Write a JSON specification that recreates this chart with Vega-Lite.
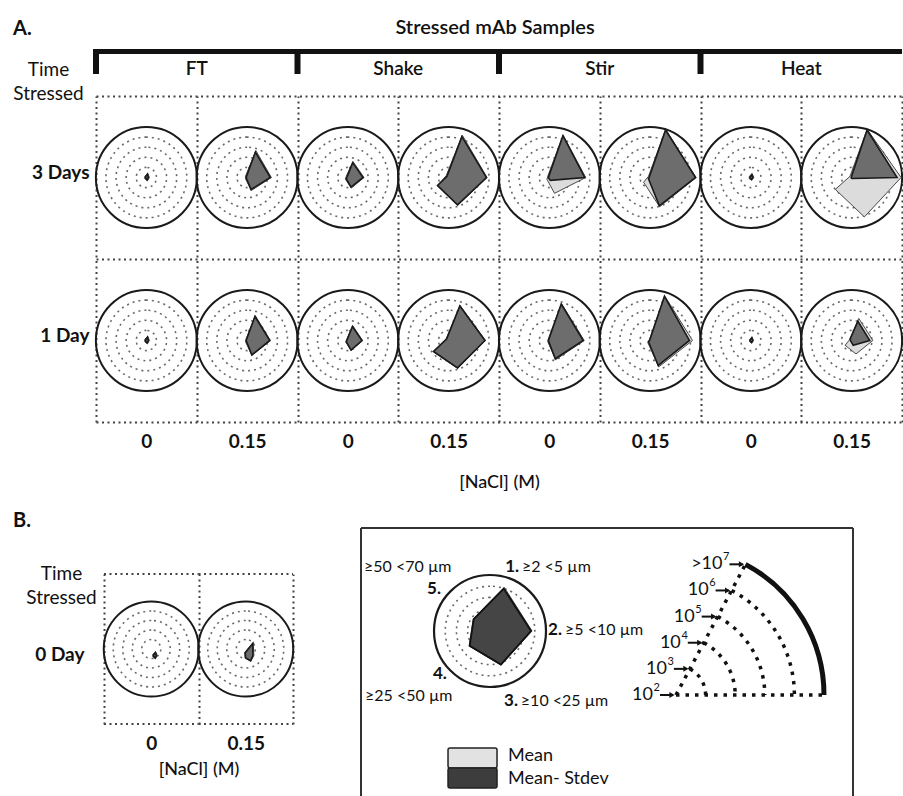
{
"$schema":"https://vega.github.io/schema/vega-lite/v6.json",
"padding":{"left":12,"top":17,"right":0,"bottom":0},
"autosize":{"type":"pad"},
"config":{"font":"Lato","view":{"stroke":null},"text":{"color":"#111"},
"axis":{"labelColor":"#111","titleColor":"#111","domain":false,"ticks":false,"labelFontSize":19,"labelFontWeight":"bold","titleFontSize":19,"titleFontWeight":"normal","gridColor":"#444","gridDash":[2,3.5],"gridWidth":2,"gridOpacity":1,"labelOverlap":false}},
"datasets":{
"groups":[{"g":"FT","start":"FT|0","mid":"FT|0.15"},{"g":"Shake","start":"Shake|0","mid":"Shake|0.15"},{"g":"Stir","start":"Stir|0","mid":"Stir|0.15"},{"g":"Heat","start":"Heat|0","mid":"Heat|0.15"}],
"radarA":[
{"t":"3 Days","s":"FT","n":"0","series":"Mean","v1":2.45,"v2":2.3,"v3":2.35,"v4":2.2,"v5":2.2},
{"t":"3 Days","s":"FT","n":"0","series":"Mean- Stdev","v1":2.35,"v2":2.2,"v3":2.25,"v4":2.1,"v5":2.1},
{"t":"3 Days","s":"FT","n":"0.15","series":"Mean","v1":4.8,"v2":4.4,"v3":3.35,"v4":2.2,"v5":2.2},
{"t":"3 Days","s":"FT","n":"0.15","series":"Mean- Stdev","v1":4.65,"v2":4.3,"v3":3.25,"v4":2.1,"v5":2.1},
{"t":"3 Days","s":"Shake","n":"0","series":"Mean","v1":3.65,"v2":3.6,"v3":3.1,"v4":2.3,"v5":2.2},
{"t":"3 Days","s":"Shake","n":"0","series":"Mean- Stdev","v1":3.55,"v2":3.5,"v3":3.0,"v4":2.2,"v5":2.1},
{"t":"3 Days","s":"Shake","n":"0.15","series":"Mean","v1":6.4,"v2":5.8,"v3":4.9,"v4":3.4,"v5":2.3},
{"t":"3 Days","s":"Shake","n":"0.15","series":"Mean- Stdev","v1":6.25,"v2":5.75,"v3":4.85,"v4":3.35,"v5":2.2},
{"t":"3 Days","s":"Stir","n":"0","series":"Mean","v1":6.4,"v2":5.6,"v3":3.65,"v4":2.3,"v5":2.2},
{"t":"3 Days","s":"Stir","n":"0","series":"Mean- Stdev","v1":6.35,"v2":5.5,"v3":2.3,"v4":2.1,"v5":2.1},
{"t":"3 Days","s":"Stir","n":"0.15","series":"Mean","v1":7.0,"v2":6.55,"v3":5.05,"v4":2.8,"v5":2.2},
{"t":"3 Days","s":"Stir","n":"0.15","series":"Mean- Stdev","v1":6.95,"v2":6.5,"v3":4.95,"v4":2.2,"v5":2.1},
{"t":"3 Days","s":"Heat","n":"0","series":"Mean","v1":2.4,"v2":2.3,"v3":2.3,"v4":2.2,"v5":2.2},
{"t":"3 Days","s":"Heat","n":"0","series":"Mean- Stdev","v1":2.3,"v2":2.2,"v3":2.2,"v4":2.1,"v5":2.1},
{"t":"3 Days","s":"Heat","n":"0.15","series":"Mean","v1":7.0,"v2":6.9,"v3":6.1,"v4":4.0,"v5":2.2},
{"t":"3 Days","s":"Heat","n":"0.15","series":"Mean- Stdev","v1":6.95,"v2":6.5,"v3":2.1,"v4":2.05,"v5":2.05},
{"t":"1 Day","s":"FT","n":"0","series":"Mean","v1":2.45,"v2":2.3,"v3":2.35,"v4":2.2,"v5":2.2},
{"t":"1 Day","s":"FT","n":"0","series":"Mean- Stdev","v1":2.35,"v2":2.2,"v3":2.25,"v4":2.1,"v5":2.1},
{"t":"1 Day","s":"FT","n":"0.15","series":"Mean","v1":4.6,"v2":4.3,"v3":3.55,"v4":2.2,"v5":2.15},
{"t":"1 Day","s":"FT","n":"0.15","series":"Mean- Stdev","v1":4.5,"v2":4.25,"v3":3.5,"v4":2.1,"v5":2.1},
{"t":"1 Day","s":"Shake","n":"0","series":"Mean","v1":3.55,"v2":3.45,"v3":3.05,"v4":2.25,"v5":2.15},
{"t":"1 Day","s":"Shake","n":"0","series":"Mean- Stdev","v1":3.45,"v2":3.4,"v3":3.0,"v4":2.2,"v5":2.1},
{"t":"1 Day","s":"Shake","n":"0.15","series":"Mean","v1":5.65,"v2":5.65,"v3":4.9,"v4":3.9,"v5":2.3},
{"t":"1 Day","s":"Shake","n":"0.15","series":"Mean- Stdev","v1":5.6,"v2":5.6,"v3":4.85,"v4":3.85,"v5":2.25},
{"t":"1 Day","s":"Stir","n":"0","series":"Mean","v1":5.85,"v2":5.45,"v3":4.0,"v4":2.2,"v5":2.15},
{"t":"1 Day","s":"Stir","n":"0","series":"Mean- Stdev","v1":5.8,"v2":5.35,"v3":3.9,"v4":2.1,"v5":2.1},
{"t":"1 Day","s":"Stir","n":"0.15","series":"Mean","v1":6.65,"v2":6.2,"v3":4.75,"v4":2.3,"v5":2.1},
{"t":"1 Day","s":"Stir","n":"0.15","series":"Mean- Stdev","v1":6.6,"v2":5.9,"v3":4.6,"v4":2.2,"v5":2.05},
{"t":"1 Day","s":"Heat","n":"0","series":"Mean","v1":2.35,"v2":2.25,"v3":2.3,"v4":2.15,"v5":2.15},
{"t":"1 Day","s":"Heat","n":"0","series":"Mean- Stdev","v1":2.3,"v2":2.2,"v3":2.2,"v4":2.1,"v5":2.1},
{"t":"1 Day","s":"Heat","n":"0.15","series":"Mean","v1":4.3,"v2":4.1,"v3":3.4,"v4":2.8,"v5":2.2},
{"t":"1 Day","s":"Heat","n":"0.15","series":"Mean- Stdev","v1":4.0,"v2":3.8,"v3":2.5,"v4":2.1,"v5":2.2}
],
"radarB":[
{"t":"0 Day","n":"0","series":"Mean","v1":2.4,"v2":2.3,"v3":2.35,"v4":2.2,"v5":2.2},
{"t":"0 Day","n":"0","series":"Mean- Stdev","v1":2.3,"v2":2.2,"v3":2.25,"v4":2.1,"v5":2.1},
{"t":"0 Day","n":"0.15","series":"Mean","v1":3.35,"v2":2.5,"v3":2.6,"v4":2.45,"v5":2.5},
{"t":"0 Day","n":"0.15","series":"Mean- Stdev","v1":3.25,"v2":2.4,"v3":2.55,"v4":2.4,"v5":2.45}
],
"radarL":[
{"series":"Mean","v1":6.1,"v2":5.75,"v3":5.2,"v4":4.3,"v5":3.85},
{"series":"Mean- Stdev","v1":5.97,"v2":5.66,"v3":5.15,"v4":4.25,"v5":3.8}
],
"levels":[{"exp":2,"base":"10","sup":"2"},{"exp":3,"base":"10","sup":"3"},{"exp":4,"base":"10","sup":"4"},{"exp":5,"base":"10","sup":"5"},{"exp":6,"base":"10","sup":"6"},{"exp":7,"base":">10","sup":"7"}]
},
"vconcat":[
{"width":806,"height":47,"data":{"name":"groups"},
"layer":[
{"transform":[{"filter":"datum.g == 'FT'"}],"mark":{"type":"rule","strokeWidth":5,"color":"#111"},"encoding":{"y":{"datum":0.947,"type":"quantitative","scale":{"domain":[0,1],"nice":false,"zero":false},"axis":null}}},
{"mark":{"type":"rule","strokeWidth":6,"color":"#111"},"encoding":{"x":{"field":"start","type":"nominal","bandPosition":0,"scale":{"type":"band","domain":["FT|0","FT|0.15","Shake|0","Shake|0.15","Stir|0","Stir|0.15","Heat|0","Heat|0.15"],"paddingInner":0,"paddingOuter":0},"axis":null},"y":{"datum":1,"type":"quantitative","scale":{"domain":[0,1],"nice":false,"zero":false},"axis":null},"y2":{"datum":0.468}}},
{"mark":{"type":"text","fontSize":19,"fontWeight":600,"baseline":"alphabetic"},"encoding":{"x":{"field":"mid","type":"nominal","bandPosition":0,"scale":{"type":"band","domain":["FT|0","FT|0.15","Shake|0","Shake|0.15","Stir|0","Stir|0.15","Heat|0","Heat|0.15"],"paddingInner":0,"paddingOuter":0},"axis":null},"y":{"datum":0.447,"type":"quantitative","scale":{"domain":[0,1],"nice":false,"zero":false},"axis":null},"text":{"field":"g"}}},
{"transform":[{"filter":"datum.g == 'Stir'"}],"mark":{"type":"text","fontSize":20,"fontWeight":600,"baseline":"middle","dx":-4,"text":"Stressed mAb Samples"},"encoding":{"x":{"field":"start","type":"nominal","bandPosition":0,"scale":{"type":"band","domain":["FT|0","FT|0.15","Shake|0","Shake|0.15","Stir|0","Stir|0.15","Heat|0","Heat|0.15"],"paddingInner":0,"paddingOuter":0},"axis":null},"y":{"datum":1.447,"type":"quantitative","scale":{"domain":[0,1],"nice":false,"zero":false},"axis":null}}},
{"transform":[{"filter":"datum.g == 'FT'"}],"mark":{"type":"text","fontSize":20,"fontWeight":"bold","baseline":"middle","align":"left","dx":-83,"text":"A."},"encoding":{"x":{"field":"start","type":"nominal","bandPosition":0,"scale":{"type":"band","domain":["FT|0","FT|0.15","Shake|0","Shake|0.15","Stir|0","Stir|0.15","Heat|0","Heat|0.15"],"paddingInner":0,"paddingOuter":0},"axis":null},"y":{"datum":1.426,"type":"quantitative","scale":{"domain":[0,1],"nice":false,"zero":false},"axis":null}}}
]},
{"width":806,"height":326,"data":{"name":"radarA"},
"transform":[
{"calculate":"datum.s + '|' + datum.n","as":"cell"},
{"fold":["v1","v2","v3","v4","v5"],"as":["key","v"]},
{"calculate":"toNumber(substring(datum.key,1))","as":"axis"},
{"calculate":"(datum.v-2)/5","as":"f"},
{"calculate":"(18+72*(datum.axis-1))*PI/180","as":"ang"},
{"calculate":"datum.f*sin(datum.ang)","as":"dx"},
{"calculate":"-datum.f*cos(datum.ang)","as":"dy"}
],
"encoding":{
"x":{"field":"cell","type":"nominal","scale":{"type":"band","domain":["FT|0","FT|0.15","Shake|0","Shake|0.15","Stir|0","Stir|0.15","Heat|0","Heat|0.15"],"paddingInner":0,"paddingOuter":0},
"axis":{"title":"[NaCl] (M)","labelExpr":"split(datum.value,'|')[1]","labelAngle":0,"tickBand":"extent","grid":true,"labelPadding":10,"titlePadding":22,"titleFontSize":18,"titleFontWeight":500}},
"y":{"field":"t","type":"nominal","scale":{"type":"band","domain":["3 Days","1 Day"],"paddingInner":0,"paddingOuter":0},
"axis":{"title":["Time","Stressed"],"titleAngle":0,"titleAlign":"center","titleBaseline":"alphabetic","titleX":-48,"titleY":-21,"titleLineHeight":24,"labelPadding":7,"labelOffset":-5,"tickBand":"extent","grid":true}}
},
"layer":[
{"transform":[{"filter":"datum.series == 'Mean' && datum.axis == 1"}],"mark":{"type":"arc","filled":false,"stroke":"#6a6a6a","strokeWidth":1.6,"strokeDash":[2,4]},"encoding":{"radius":{"datum":3,"type":"quantitative","scale":{"type":"linear","domain":[2,7],"range":[0,50.5],"zero":false}}}},
{"transform":[{"filter":"datum.series == 'Mean' && datum.axis == 1"}],"mark":{"type":"arc","filled":false,"stroke":"#6a6a6a","strokeWidth":1.6,"strokeDash":[2,4]},"encoding":{"radius":{"datum":4,"type":"quantitative","scale":{"type":"linear","domain":[2,7],"range":[0,50.5],"zero":false}}}},
{"transform":[{"filter":"datum.series == 'Mean' && datum.axis == 1"}],"mark":{"type":"arc","filled":false,"stroke":"#6a6a6a","strokeWidth":1.6,"strokeDash":[2,4]},"encoding":{"radius":{"datum":5,"type":"quantitative","scale":{"type":"linear","domain":[2,7],"range":[0,50.5],"zero":false}}}},
{"transform":[{"filter":"datum.series == 'Mean' && datum.axis == 1"}],"mark":{"type":"arc","filled":false,"stroke":"#6a6a6a","strokeWidth":1.6,"strokeDash":[2,4]},"encoding":{"radius":{"datum":6,"type":"quantitative","scale":{"type":"linear","domain":[2,7],"range":[0,50.5],"zero":false}}}},
{"transform":[{"filter":"datum.series == 'Mean' && datum.axis == 1"}],"mark":{"type":"arc","filled":false,"stroke":"#1a1a1a","strokeWidth":2},"encoding":{"radius":{"datum":7,"type":"quantitative","scale":{"type":"linear","domain":[2,7],"range":[0,50.5],"zero":false}}}},
{"transform":[{"filter":"datum.series == 'Mean'"}],"mark":{"type":"line","interpolate":"linear-closed","fill":"#dcdcdc","stroke":"#4a4a4a","strokeWidth":1},"encoding":{"xOffset":{"field":"dx","type":"quantitative","scale":{"domain":[-1,1],"range":[-0.125,100.875],"nice":false,"zero":false}},"yOffset":{"field":"dy","type":"quantitative","scale":{"domain":[-1,1],"range":[31,132],"nice":false,"zero":false}},"order":{"field":"axis","type":"quantitative"},"detail":[{"field":"cell"},{"field":"t"}]}},
{"transform":[{"filter":"datum.series == 'Mean- Stdev'"}],"mark":{"type":"line","interpolate":"linear-closed","fill":"#6d6d6d","stroke":"#1a1a1a","strokeWidth":1.6},"encoding":{"xOffset":{"field":"dx","type":"quantitative","scale":{"domain":[-1,1],"range":[-0.125,100.875],"nice":false,"zero":false}},"yOffset":{"field":"dy","type":"quantitative","scale":{"domain":[-1,1],"range":[31,132],"nice":false,"zero":false}},"order":{"field":"axis","type":"quantitative"},"detail":[{"field":"cell"},{"field":"t"}]}}
]},
{"width":806,"height":106,"data":{"values":[{"k":1}]},"mark":{"type":"text","text":""},"encoding":{}},
{"hconcat":[
{"width":197,"height":150,"data":{"name":"radarB"},
"transform":[
{"fold":["v1","v2","v3","v4","v5"],"as":["key","v"]},
{"calculate":"toNumber(substring(datum.key,1))","as":"axis"},
{"calculate":"(datum.v-2)/5","as":"f"},
{"calculate":"(18+72*(datum.axis-1))*PI/180","as":"ang"},
{"calculate":"datum.f*sin(datum.ang)","as":"dx"},
{"calculate":"-datum.f*cos(datum.ang)","as":"dy"}
],
"encoding":{
"x":{"field":"n","type":"nominal","scale":{"type":"band","domain":["0","0.15"],"range":[8,197],"paddingInner":0,"paddingOuter":0},
"axis":{"title":"[NaCl] (M)","labelAngle":0,"tickBand":"extent","grid":true,"labelPadding":10,"titlePadding":7,"titleFontSize":18,"titleFontWeight":500}},
"y":{"field":"t","type":"nominal","scale":{"type":"band","domain":["0 Day"],"paddingInner":0,"paddingOuter":0},
"axis":{"title":["Time","Stressed"],"titleAngle":0,"titleAlign":"center","titleBaseline":"alphabetic","titleX":-35,"titleY":5,"titleLineHeight":24,"labelPadding":12,"labelOffset":6,"grid":false}}
},
"layer":[
{"transform":[{"filter":"datum.series == 'Mean' && datum.axis == 1"}],"mark":{"type":"rule","strokeWidth":2,"color":"#444","strokeDash":[2,3.5],"xOffset":-47.25,"x2Offset":47.25},"encoding":{"x2":{"field":"n"},"y":{"field":"t","type":"nominal","bandPosition":0}}},
{"transform":[{"filter":"datum.series == 'Mean' && datum.axis == 1"}],"mark":{"type":"rule","strokeWidth":2,"color":"#444","strokeDash":[2,3.5],"xOffset":-47.25,"x2Offset":47.25,"yOffset":150},"encoding":{"x2":{"field":"n"},"y":{"field":"t","type":"nominal","bandPosition":0}}},
{"transform":[{"filter":"datum.series == 'Mean' && datum.axis == 1"}],"mark":{"type":"arc","filled":false,"stroke":"#6a6a6a","strokeWidth":1.6,"strokeDash":[2,4]},"encoding":{"radius":{"datum":3,"type":"quantitative","scale":{"type":"linear","domain":[2,7],"range":[0,47.5],"zero":false}}}},
{"transform":[{"filter":"datum.series == 'Mean' && datum.axis == 1"}],"mark":{"type":"arc","filled":false,"stroke":"#6a6a6a","strokeWidth":1.6,"strokeDash":[2,4]},"encoding":{"radius":{"datum":4,"type":"quantitative","scale":{"type":"linear","domain":[2,7],"range":[0,47.5],"zero":false}}}},
{"transform":[{"filter":"datum.series == 'Mean' && datum.axis == 1"}],"mark":{"type":"arc","filled":false,"stroke":"#6a6a6a","strokeWidth":1.6,"strokeDash":[2,4]},"encoding":{"radius":{"datum":5,"type":"quantitative","scale":{"type":"linear","domain":[2,7],"range":[0,47.5],"zero":false}}}},
{"transform":[{"filter":"datum.series == 'Mean' && datum.axis == 1"}],"mark":{"type":"arc","filled":false,"stroke":"#6a6a6a","strokeWidth":1.6,"strokeDash":[2,4]},"encoding":{"radius":{"datum":6,"type":"quantitative","scale":{"type":"linear","domain":[2,7],"range":[0,47.5],"zero":false}}}},
{"transform":[{"filter":"datum.series == 'Mean' && datum.axis == 1"}],"mark":{"type":"arc","filled":false,"stroke":"#1a1a1a","strokeWidth":2},"encoding":{"radius":{"datum":7,"type":"quantitative","scale":{"type":"linear","domain":[2,7],"range":[0,47.5],"zero":false}}}},
{"transform":[{"filter":"datum.series == 'Mean'"}],"mark":{"type":"line","interpolate":"linear-closed","fill":"#dcdcdc","stroke":"#4a4a4a","strokeWidth":1},"encoding":{"xOffset":{"field":"dx","type":"quantitative","scale":{"domain":[-1,1],"range":[-0.25,94.75],"nice":false,"zero":false}},"yOffset":{"field":"dy","type":"quantitative","scale":{"domain":[-1,1],"range":[27.5,122.5],"nice":false,"zero":false}},"order":{"field":"axis","type":"quantitative"},"detail":{"field":"n"}}},
{"transform":[{"filter":"datum.series == 'Mean- Stdev'"}],"mark":{"type":"line","interpolate":"linear-closed","fill":"#6d6d6d","stroke":"#1a1a1a","strokeWidth":1.6},"encoding":{"xOffset":{"field":"dx","type":"quantitative","scale":{"domain":[-1,1],"range":[-0.25,94.75],"nice":false,"zero":false}},"yOffset":{"field":"dy","type":"quantitative","scale":{"domain":[-1,1],"range":[27.5,122.5],"nice":false,"zero":false}},"order":{"field":"axis","type":"quantitative"},"detail":{"field":"n"}}},
{"transform":[{"filter":"datum.series == 'Mean' && datum.axis == 1 && datum.n == '0'"}],"mark":{"type":"text","text":"B.","fontSize":20,"fontWeight":"bold","align":"left","baseline":"middle","dx":-138.25,"dy":-128}}
]},
{"width":492,"height":242,"data":{"values":[{"k":1}]},
"resolve":{"scale":{"radius":"independent","size":"independent"}},
"layer":[
{"mark":{"type":"rule","color":"#333","strokeWidth":2},"encoding":{"x":{"datum":-2.304,"type":"quantitative","scale":{"domain":[-2.304,6.482],"nice":false,"zero":false},"axis":null},"y":{"datum":1.839,"type":"quantitative","scale":{"domain":[-2.482,1.839],"nice":false,"zero":false},"axis":null},"y2":{"datum":-2.982}}},
{"mark":{"type":"rule","color":"#333","strokeWidth":2},"encoding":{"x":{"datum":-2.304,"type":"quantitative","scale":{"domain":[-2.304,6.482],"nice":false,"zero":false},"axis":null},"x2":{"datum":6.482},"y":{"datum":1.839,"type":"quantitative","scale":{"domain":[-2.482,1.839],"nice":false,"zero":false},"axis":null}}},
{"mark":{"type":"rule","color":"#333","strokeWidth":2},"encoding":{"x":{"datum":6.482,"type":"quantitative","scale":{"domain":[-2.304,6.482],"nice":false,"zero":false},"axis":null},"y":{"datum":1.839,"type":"quantitative","scale":{"domain":[-2.482,1.839],"nice":false,"zero":false},"axis":null},"y2":{"datum":-2.982}}},
{"mark":{"type":"arc","filled":false,"stroke":"#6a6a6a","strokeWidth":1.6,"strokeDash":[2,4]},"encoding":{"x":{"datum":0,"type":"quantitative","scale":{"domain":[-2.304,6.482],"nice":false,"zero":false},"axis":null},"y":{"datum":0,"type":"quantitative","scale":{"domain":[-2.482,1.839],"nice":false,"zero":false},"axis":null},"radius":{"datum":3,"type":"quantitative","scale":{"type":"linear","domain":[2,7],"range":[0,56],"zero":false}}}},
{"mark":{"type":"arc","filled":false,"stroke":"#6a6a6a","strokeWidth":1.6,"strokeDash":[2,4]},"encoding":{"x":{"datum":0,"type":"quantitative","scale":{"domain":[-2.304,6.482],"nice":false,"zero":false},"axis":null},"y":{"datum":0,"type":"quantitative","scale":{"domain":[-2.482,1.839],"nice":false,"zero":false},"axis":null},"radius":{"datum":4,"type":"quantitative","scale":{"type":"linear","domain":[2,7],"range":[0,56],"zero":false}}}},
{"mark":{"type":"arc","filled":false,"stroke":"#6a6a6a","strokeWidth":1.6,"strokeDash":[2,4]},"encoding":{"x":{"datum":0,"type":"quantitative","scale":{"domain":[-2.304,6.482],"nice":false,"zero":false},"axis":null},"y":{"datum":0,"type":"quantitative","scale":{"domain":[-2.482,1.839],"nice":false,"zero":false},"axis":null},"radius":{"datum":5,"type":"quantitative","scale":{"type":"linear","domain":[2,7],"range":[0,56],"zero":false}}}},
{"mark":{"type":"arc","filled":false,"stroke":"#6a6a6a","strokeWidth":1.6,"strokeDash":[2,4]},"encoding":{"x":{"datum":0,"type":"quantitative","scale":{"domain":[-2.304,6.482],"nice":false,"zero":false},"axis":null},"y":{"datum":0,"type":"quantitative","scale":{"domain":[-2.482,1.839],"nice":false,"zero":false},"axis":null},"radius":{"datum":6,"type":"quantitative","scale":{"type":"linear","domain":[2,7],"range":[0,56],"zero":false}}}},
{"mark":{"type":"arc","filled":false,"stroke":"#1a1a1a","strokeWidth":2.2},"encoding":{"x":{"datum":0,"type":"quantitative","scale":{"domain":[-2.304,6.482],"nice":false,"zero":false},"axis":null},"y":{"datum":0,"type":"quantitative","scale":{"domain":[-2.482,1.839],"nice":false,"zero":false},"axis":null},"radius":{"datum":7,"type":"quantitative","scale":{"type":"linear","domain":[2,7],"range":[0,56],"zero":false}}}},
{"data":{"name":"radarL"},"transform":[{"fold":["v1","v2","v3","v4","v5"],"as":["key","v"]},{"calculate":"toNumber(substring(datum.key,1))","as":"axis"},{"calculate":"(datum.v-2)/5","as":"f"},{"calculate":"(18+72*(datum.axis-1))*PI/180","as":"ang"},{"calculate":"datum.f*sin(datum.ang)","as":"ex"},{"calculate":"datum.f*cos(datum.ang)","as":"ey"},{"filter":"datum.series == 'Mean'"}],
"mark":{"type":"line","interpolate":"linear-closed","fill":"#d9d9d9","stroke":"#444","strokeWidth":1},"encoding":{"x":{"field":"ex","type":"quantitative","scale":{"domain":[-2.304,6.482],"nice":false,"zero":false},"axis":null},"y":{"field":"ey","type":"quantitative","scale":{"domain":[-2.482,1.839],"nice":false,"zero":false},"axis":null},"order":{"field":"axis","type":"quantitative"}}},
{"data":{"name":"radarL"},"transform":[{"fold":["v1","v2","v3","v4","v5"],"as":["key","v"]},{"calculate":"toNumber(substring(datum.key,1))","as":"axis"},{"calculate":"(datum.v-2)/5","as":"f"},{"calculate":"(18+72*(datum.axis-1))*PI/180","as":"ang"},{"calculate":"datum.f*sin(datum.ang)","as":"ex"},{"calculate":"datum.f*cos(datum.ang)","as":"ey"},{"filter":"datum.series == 'Mean- Stdev'"}],
"mark":{"type":"line","interpolate":"linear-closed","fill":"#454545","stroke":"#111","strokeWidth":1.8},"encoding":{"x":{"field":"ex","type":"quantitative","scale":{"domain":[-2.304,6.482],"nice":false,"zero":false},"axis":null},"y":{"field":"ey","type":"quantitative","scale":{"domain":[-2.482,1.839],"nice":false,"zero":false},"axis":null},"order":{"field":"axis","type":"quantitative"}}},
{"mark":{"type":"text","text":"1.","fontSize":17,"fontWeight":"bold","align":"left","baseline":"middle"},"encoding":{"x":{"datum":0.27,"type":"quantitative","scale":{"domain":[-2.304,6.482],"nice":false,"zero":false},"axis":null},"y":{"datum":1.143,"type":"quantitative","scale":{"domain":[-2.482,1.839],"nice":false,"zero":false},"axis":null}}},
{"mark":{"type":"text","text":"≥2 <5 µm","fontSize":16,"align":"left","baseline":"middle"},"encoding":{"x":{"datum":0.57,"type":"quantitative","scale":{"domain":[-2.304,6.482],"nice":false,"zero":false},"axis":null},"y":{"datum":1.143,"type":"quantitative","scale":{"domain":[-2.482,1.839],"nice":false,"zero":false},"axis":null}}},
{"mark":{"type":"text","text":"2.","fontSize":17,"fontWeight":"bold","align":"left","baseline":"middle"},"encoding":{"x":{"datum":1.036,"type":"quantitative","scale":{"domain":[-2.304,6.482],"nice":false,"zero":false},"axis":null},"y":{"datum":0.018,"type":"quantitative","scale":{"domain":[-2.482,1.839],"nice":false,"zero":false},"axis":null}}},
{"mark":{"type":"text","text":"≥5 <10 µm","fontSize":16,"align":"left","baseline":"middle"},"encoding":{"x":{"datum":1.34,"type":"quantitative","scale":{"domain":[-2.304,6.482],"nice":false,"zero":false},"axis":null},"y":{"datum":0.018,"type":"quantitative","scale":{"domain":[-2.482,1.839],"nice":false,"zero":false},"axis":null}}},
{"mark":{"type":"text","text":"3.","fontSize":17,"fontWeight":"bold","align":"left","baseline":"middle"},"encoding":{"x":{"datum":0.25,"type":"quantitative","scale":{"domain":[-2.304,6.482],"nice":false,"zero":false},"axis":null},"y":{"datum":-1.25,"type":"quantitative","scale":{"domain":[-2.482,1.839],"nice":false,"zero":false},"axis":null}}},
{"mark":{"type":"text","text":"≥10 <25 µm","fontSize":16,"align":"left","baseline":"middle"},"encoding":{"x":{"datum":0.55,"type":"quantitative","scale":{"domain":[-2.304,6.482],"nice":false,"zero":false},"axis":null},"y":{"datum":-1.25,"type":"quantitative","scale":{"domain":[-2.482,1.839],"nice":false,"zero":false},"axis":null}}},
{"mark":{"type":"text","text":"4.","fontSize":17,"fontWeight":"bold","align":"left","baseline":"middle"},"encoding":{"x":{"datum":-1.018,"type":"quantitative","scale":{"domain":[-2.304,6.482],"nice":false,"zero":false},"axis":null},"y":{"datum":-0.768,"type":"quantitative","scale":{"domain":[-2.482,1.839],"nice":false,"zero":false},"axis":null}}},
{"mark":{"type":"text","text":"≥25 <50 µm","fontSize":16,"align":"left","baseline":"middle"},"encoding":{"x":{"datum":-2.232,"type":"quantitative","scale":{"domain":[-2.304,6.482],"nice":false,"zero":false},"axis":null},"y":{"datum":-1.161,"type":"quantitative","scale":{"domain":[-2.482,1.839],"nice":false,"zero":false},"axis":null}}},
{"mark":{"type":"text","text":"5.","fontSize":17,"fontWeight":"bold","align":"left","baseline":"middle"},"encoding":{"x":{"datum":-1.125,"type":"quantitative","scale":{"domain":[-2.304,6.482],"nice":false,"zero":false},"axis":null},"y":{"datum":0.75,"type":"quantitative","scale":{"domain":[-2.482,1.839],"nice":false,"zero":false},"axis":null}}},
{"mark":{"type":"text","text":"≥50 <70 µm","fontSize":16,"align":"left","baseline":"middle"},"encoding":{"x":{"datum":-2.25,"type":"quantitative","scale":{"domain":[-2.304,6.482],"nice":false,"zero":false},"axis":null},"y":{"datum":1.143,"type":"quantitative","scale":{"domain":[-2.482,1.839],"nice":false,"zero":false},"axis":null}}},
{"mark":{"type":"rect","fill":"#e2e2e2","stroke":"#222","strokeWidth":1.5,"cornerRadius":2},"encoding":{"x":{"datum":-0.75,"type":"quantitative","scale":{"domain":[-2.304,6.482],"nice":false,"zero":false},"axis":null},"x2":{"datum":0.125},"y":{"datum":-2.089,"type":"quantitative","scale":{"domain":[-2.482,1.839],"nice":false,"zero":false},"axis":null},"y2":{"datum":-2.446}}},
{"mark":{"type":"rect","fill":"#3d3d3d","stroke":"#222","strokeWidth":1.5,"cornerRadius":2},"encoding":{"x":{"datum":-0.75,"type":"quantitative","scale":{"domain":[-2.304,6.482],"nice":false,"zero":false},"axis":null},"x2":{"datum":0.125},"y":{"datum":-2.446,"type":"quantitative","scale":{"domain":[-2.482,1.839],"nice":false,"zero":false},"axis":null},"y2":{"datum":-2.804}}},
{"mark":{"type":"text","text":"Mean","fontSize":18,"align":"left","baseline":"middle"},"encoding":{"x":{"datum":0.321,"type":"quantitative","scale":{"domain":[-2.304,6.482],"nice":false,"zero":false},"axis":null},"y":{"datum":-2.232,"type":"quantitative","scale":{"domain":[-2.482,1.839],"nice":false,"zero":false},"axis":null}}},
{"mark":{"type":"text","text":"Mean- Stdev","fontSize":18,"align":"left","baseline":"middle"},"encoding":{"x":{"datum":0.321,"type":"quantitative","scale":{"domain":[-2.304,6.482],"nice":false,"zero":false},"axis":null},"y":{"datum":-2.643,"type":"quantitative","scale":{"domain":[-2.482,1.839],"nice":false,"zero":false},"axis":null}}},
{"mark":{"type":"rule","color":"#111","strokeWidth":3.5,"strokeDash":[3.5,6]},"encoding":{"x":{"datum":3.321,"type":"quantitative","scale":{"domain":[-2.304,6.482],"nice":false,"zero":false},"axis":null},"x2":{"datum":5.964},"y":{"datum":-1.143,"type":"quantitative","scale":{"domain":[-2.482,1.839],"nice":false,"zero":false},"axis":null}}},
{"mark":{"type":"rule","color":"#111","strokeWidth":3.5,"strokeDash":[3.5,6]},"encoding":{"x":{"datum":3.321,"type":"quantitative","scale":{"domain":[-2.304,6.482],"nice":false,"zero":false},"axis":null},"x2":{"datum":4.562},"y":{"datum":-1.143,"type":"quantitative","scale":{"domain":[-2.482,1.839],"nice":false,"zero":false},"axis":null},"y2":{"datum":1.191}}},
{"data":{"name":"levels"},"transform":[{"filter":"datum.exp >= 3 && datum.exp <= 6"},{"calculate":"(datum.exp-2)/5","as":"f"}],
"mark":{"type":"point","shape":"M0.4695,-0.8829A1,1,0,0,1,1,0","filled":false,"stroke":"#111","strokeWidth":3.5,"strokeDash":[3.5,6],"opacity":1},
"encoding":{"x":{"datum":3.321,"type":"quantitative","scale":{"domain":[-2.304,6.482],"nice":false,"zero":false},"axis":null},"y":{"datum":-1.143,"type":"quantitative","scale":{"domain":[-2.482,1.839],"nice":false,"zero":false},"axis":null},"size":{"field":"f","type":"quantitative","scale":{"type":"pow","exponent":2,"domain":[0,1],"range":[0,87616]},"legend":null}}},
{"data":{"name":"levels"},"transform":[{"filter":"datum.exp == 7"},{"calculate":"(datum.exp-2)/5","as":"f"}],
"mark":{"type":"point","shape":"M0.4695,-0.8829A1,1,0,0,1,1,0","filled":false,"stroke":"#111","strokeWidth":5,"opacity":1},
"encoding":{"x":{"datum":3.321,"type":"quantitative","scale":{"domain":[-2.304,6.482],"nice":false,"zero":false},"axis":null},"y":{"datum":-1.143,"type":"quantitative","scale":{"domain":[-2.482,1.839],"nice":false,"zero":false},"axis":null},"size":{"field":"f","type":"quantitative","scale":{"type":"pow","exponent":2,"domain":[0,1],"range":[0,87616]},"legend":null}}},
{"data":{"name":"levels"},"transform":[{"calculate":"(datum.exp-2)/5","as":"f"},{"calculate":"3.321+datum.f*2.643*0.4695","as":"lx"},{"calculate":"-1.143+datum.f*2.643*0.8829","as":"ly"}],
"mark":{"type":"rule","color":"#111","strokeWidth":2,"xOffset":-16,"x2Offset":-3},
"encoding":{"x":{"field":"lx","type":"quantitative","scale":{"domain":[-2.304,6.482],"nice":false,"zero":false},"axis":null},"x2":{"field":"lx"},"y":{"field":"ly","type":"quantitative","scale":{"domain":[-2.482,1.839],"nice":false,"zero":false},"axis":null}}},
{"data":{"name":"levels"},"transform":[{"calculate":"(datum.exp-2)/5","as":"f"},{"calculate":"3.321+datum.f*2.643*0.4695","as":"lx"},{"calculate":"-1.143+datum.f*2.643*0.8829","as":"ly"}],
"mark":{"type":"point","shape":"triangle-right","filled":true,"color":"#111","size":36,"opacity":1,"xOffset":-4},
"encoding":{"x":{"field":"lx","type":"quantitative","scale":{"domain":[-2.304,6.482],"nice":false,"zero":false},"axis":null},"y":{"field":"ly","type":"quantitative","scale":{"domain":[-2.482,1.839],"nice":false,"zero":false},"axis":null}}},
{"data":{"name":"levels"},"transform":[{"calculate":"(datum.exp-2)/5","as":"f"},{"calculate":"3.321+datum.f*2.643*0.4695","as":"lx"},{"calculate":"-1.143+datum.f*2.643*0.8829","as":"ly"}],
"mark":{"type":"text","fontSize":18,"align":"right","baseline":"middle","dx":-23},
"encoding":{"x":{"field":"lx","type":"quantitative","scale":{"domain":[-2.304,6.482],"nice":false,"zero":false},"axis":null},"y":{"field":"ly","type":"quantitative","scale":{"domain":[-2.482,1.839],"nice":false,"zero":false},"axis":null},"text":{"field":"base"}}},
{"data":{"name":"levels"},"transform":[{"calculate":"(datum.exp-2)/5","as":"f"},{"calculate":"3.321+datum.f*2.643*0.4695","as":"lx"},{"calculate":"-1.143+datum.f*2.643*0.8829","as":"ly"}],
"mark":{"type":"text","fontSize":11,"align":"right","baseline":"middle","dx":-16,"dy":-7},
"encoding":{"x":{"field":"lx","type":"quantitative","scale":{"domain":[-2.304,6.482],"nice":false,"zero":false},"axis":null},"y":{"field":"ly","type":"quantitative","scale":{"domain":[-2.482,1.839],"nice":false,"zero":false},"axis":null},"text":{"field":"sup"}}}
]}
],"spacing":68,"bounds":"flush","center":true}
],
"spacing":0,"bounds":"flush"
}
